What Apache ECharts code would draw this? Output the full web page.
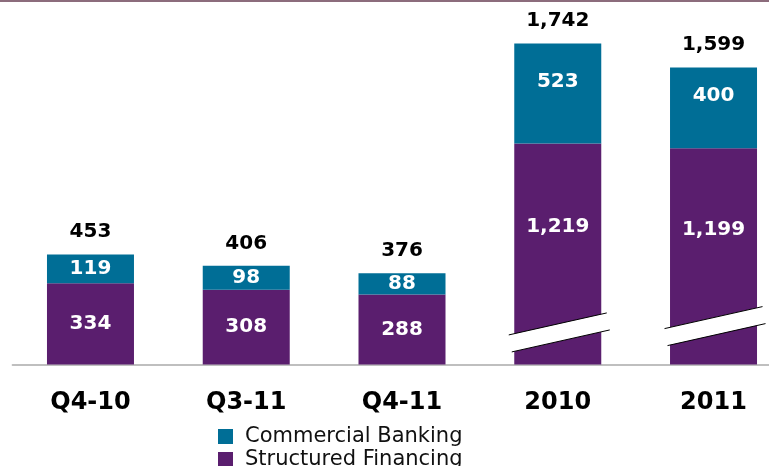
<!DOCTYPE html>
<html>
<head>
<meta charset="utf-8">
<script src="https://cdn.jsdelivr.net/npm/echarts@6/dist/echarts.min.js"></script>
<style>
  html, body { margin: 0; padding: 0; background: #ffffff; }
  #chart { width: 769px; height: 466px; }
</style>
</head>
<body>
<div id="chart"></div>
<script>
// Periods and volumes by business line
const categories = ['Q4-10', 'Q3-11', 'Q4-11', '2010', '2011'];
const structuredFinancing = [334, 308, 288, 1219, 1199];
const commercialBanking = [119, 98, 88, 523, 400];
const totals = [453, 406, 376, 1742, 1599];

// Full-year columns are drawn on a compressed scale (hidden axis breaks)
const brokenColumns = [3, 4];
// Where the white "scale break" slash sits on those columns (value axis units)
const breakMarks = [[3, 132], [4, 158]];

const FONT = 'DejaVu Sans';
const PURPLE = '#5A1E6E';
const TEAL = '#006E96';

const fmt = v => Number(v).toLocaleString('en-US');

function segmentData(values, brokenOffset) {
  return values.map((v, i) => {
    if (brokenColumns.indexOf(i) === -1) return v;
    return { value: v, label: { offset: [0, brokenOffset] } };
  });
}

const chart = echarts.init(document.getElementById('chart'), null, { renderer: 'canvas' });

const insideLabel = {
  show: true,
  position: 'inside',
  color: '#ffffff',
  fontFamily: FONT,
  fontWeight: 'bold',
  fontSize: 20,
  formatter: p => fmt(p.value)
};

chart.setOption({
  animation: false,
  backgroundColor: '#ffffff',
  graphic: [
    { type: 'rect', left: 0, top: 0, shape: { width: 769, height: 2 }, style: { fill: '#8C6C7C' } }
  ],
  grid: { left: 12.6, width: 778.8, top: 0, bottom: 101.5, containLabel: false, outerBoundsMode: 'none' },
  legend: {
    data: ['Commercial Banking', 'Structured Financing'],
    orient: 'vertical',
    left: 213,
    top: 421,
    height: 120,
    icon: 'rect',
    itemWidth: 15,
    itemHeight: 15,
    itemGap: 2,
    textStyle: { fontFamily: FONT, fontSize: 21, color: '#111111', lineHeight: 21, padding: [0, 0, 0, 7] }
  },
  xAxis: {
    type: 'category',
    data: categories,
    axisLine: { lineStyle: { color: '#BFBFBF', width: 2 } },
    axisTick: { show: false },
    axisLabel: { margin: 26, color: '#000000', fontFamily: FONT, fontWeight: 'bold', fontSize: 24 }
  },
  yAxis: {
    type: 'value',
    min: 0,
    max: 1921,
    axisLine: { show: false },
    axisTick: { show: false },
    axisLabel: { show: false },
    splitLine: { show: false },
    breaks: [
      { start: 480, end: 799.5, gap: 10 },
      { start: 1300, end: 1377.5, gap: 10 },
      { start: 1620, end: 1674, gap: 10 }
    ],
    breakArea: {
      show: false,
      itemStyle: { color: 'rgba(0,0,0,0)', borderWidth: 0, opacity: 0 }
    }
  },
  series: [
    {
      name: 'Structured Financing',
      type: 'bar',
      stack: 'volume',
      barWidth: 87,
      itemStyle: { color: PURPLE },
      label: insideLabel,
      data: segmentData(structuredFinancing, -27)
    },
    {
      name: 'Commercial Banking',
      type: 'bar',
      stack: 'volume',
      barWidth: 87,
      itemStyle: { color: TEAL },
      label: insideLabel,
      data: segmentData(commercialBanking, -12)
    },
    {
      name: 'Total',
      type: 'scatter',
      symbolSize: 1,
      itemStyle: { color: '#ffffff', opacity: 0 },
      label: {
        show: true,
        position: 'top',
        distance: 12,
        color: '#000000',
        opacity: 1,
        fontFamily: FONT,
        fontWeight: 'bold',
        fontSize: 20,
        formatter: p => fmt(p.value)
      },
      data: totals,
      z: 4
    },
    {
      name: 'Scale break',
      type: 'custom',
      z: 5,
      silent: true,
      data: breakMarks,
      renderItem: function (params, api) {
        const p = api.coord([api.value(0), api.value(1)]);
        const half = 49, rise = 11, t = 17;
        const ul = [p[0] - half, p[1] - t / 2 + rise];
        const ur = [p[0] + half, p[1] - t / 2 - rise];
        const ll = [p[0] - half + 3, p[1] + t / 2 + rise];
        const lr = [p[0] + half + 3, p[1] + t / 2 - rise];
        return {
          type: 'group',
          children: [
            { type: 'polygon', shape: { points: [ul, ur, lr, ll] }, style: { fill: '#ffffff' } },
            { type: 'line', shape: { x1: ul[0], y1: ul[1], x2: ur[0], y2: ur[1] }, style: { stroke: '#000000', lineWidth: 1 } },
            { type: 'line', shape: { x1: ll[0], y1: ll[1], x2: lr[0], y2: lr[1] }, style: { stroke: '#000000', lineWidth: 1 } }
          ]
        };
      }
    }
  ]
});
</script>
</body>
</html>
